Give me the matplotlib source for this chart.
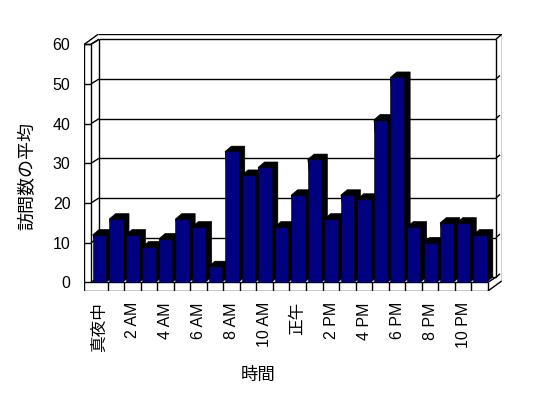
import matplotlib
matplotlib.use("Agg")
import matplotlib.pyplot as plt
from matplotlib.patches import Polygon

# ---- data ----
hours = list(range(24))
visits = [12, 16, 12, 9, 11, 16, 14, 4, 33, 27, 29, 14,
          22, 31, 16, 22, 21, 41, 51.7, 14, 10, 15, 15, 12]
tick_labels = ["真夜中", "2 AM", "4 AM", "6 AM", "8 AM", "10 AM",
               "正午", "2 PM", "4 PM", "6 PM", "8 PM", "10 PM"]
y_ticks = [0, 10, 20, 30, 40, 50, 60]
x_title = "時間"
y_title = "訪問数の平均"

# ---- layout (figure pixels) ----
W, H = 548, 398
fig = plt.figure(figsize=(W / 100, H / 100), dpi=100)
L, R, T, B = 84.3, 501.7, 34.3, 291.0
ax = fig.add_axes([L / W, 1 - B / H, (R - L) / W, (B - T) / H])

n = len(visits)
ymax = y_ticks[-1]
P = 16.53          # px per slot
S = 3.97           # px per value unit
XO = -(91 - L) / P          # left slab outer x
F = (B - 282.3) / S         # floor slab thickness in value units
DXW, DYW = 8 / P, 5 / S     # back wall depth offset
TX, TY = 5.8 / P, 5 / S     # wall thickness
DXB, DYB = 6.3 / P, 5.3 / S # bar depth offset

ax.set_xlim(XO, n + DXW + TX)
ax.set_ylim(-F, ymax + DYW + TY)
for s in ax.spines.values():
    s.set_visible(False)

lw = 1.0
k = dict(color="black", lw=lw, solid_capstyle="butt", zorder=1)

# gridlines (back wall, left wall, slab ticks, right slab)
for v in y_ticks:
    ax.plot([DXW, n + DXW], [v + DYW, v + DYW], **k)
    ax.plot([0, DXW], [v, v + DYW], **k)
    ax.plot([XO, 0], [v, v], **k)
    if v < ymax:
        ax.plot([n + DXW, n + DXW + TX * 0.7], [v + DYW, v + DYW + TY * 0.7], **k)

# frame
ax.plot([XO, XO], [-F, ymax], **k)
ax.plot([0, 0], [0, ymax], **k)
ax.plot([XO, 0], [ymax, ymax], **k)
ax.plot([XO, XO + DXW + TX], [ymax, ymax + DYW + TY], **k)
ax.plot([0, DXW], [ymax, ymax + DYW], **k)
ax.plot([DXW, DXW], [DYW, ymax + DYW], **k)
ax.plot([XO + DXW + TX, n + DXW + TX], [ymax + DYW + TY] * 2, **k)
ax.plot([n + DXW, n + DXW], [DYW, ymax + DYW], **k)
ax.plot([n + DXW, n + DXW + TX], [ymax + DYW, ymax + DYW + TY], **k)
ax.plot([n + DXW + TX] * 2, [DYW + TY - F, ymax + DYW + TY], **k)
ax.plot([n, n + DXW], [0, DYW], **k)
ax.plot([n, n + DXW + TX], [-F, DYW + TY - F], **k)
# floor slab front
ax.plot([XO, n], [-F, -F], **k)
ax.plot([0, n], [0, 0], **k)
for i in range(1, n + 1):
    ax.plot([i, i], [-F, 0], **k)

# bars
bw = 13.4 / P
xc = [h + 8.5 / P for h in hours]
bars = ax.bar(xc, visits, width=bw, color="#000080", edgecolor="black",
              linewidth=0.4)
for i, (rect, v) in enumerate(zip(bars.patches, visits)):
    xl = xc[i] - bw / 2
    xr = xc[i] + bw / 2
    poly = Polygon([(xl, v), (xl + DXB, v + DYB), (xr + DXB, v + DYB),
                    (xr + DXB, DYB), (xr, 0)], closed=True,
                   facecolor="black", edgecolor="black", lw=0.4,
                   zorder=2 + 2 * i)
    ax.add_patch(poly)
    rect.set_zorder(3 + 2 * i)

# ticks
fam = ["Liberation Sans", "Noto Sans CJK JP"]
ax.set_yticks(y_ticks)
ax.set_yticklabels([str(v) for v in y_ticks], fontsize=11.5, family=fam)
ax.set_xticks([xc[h] for h in hours[::2]])
ax.set_xticklabels(tick_labels, rotation=90, family=fam)
for lab in ax.get_xticklabels():
    t = lab.get_text()
    lab.set_fontsize(12 if any(ord(c) > 0x3000 for c in t) else 11.5)
ax.tick_params(axis="y", length=0, pad=10)
ax.tick_params(axis="x", length=0, pad=8)

fig.text(28.3 / W, 1 - 175.7 / H, y_title, rotation=90, ha="center",
         va="center", fontsize=13, family=fam)
fig.text(258.3 / W, 1 - 375 / H, x_title, ha="center", va="center",
         fontsize=12.5, family=fam)

fig.savefig("out.png", dpi=100, facecolor="white")
